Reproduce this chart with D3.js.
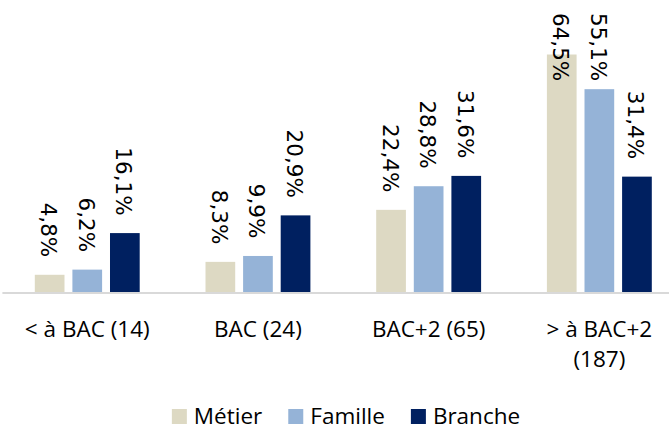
<!DOCTYPE html>
<html>
<head>
<meta charset="utf-8">
<script src="https://cdn.jsdelivr.net/npm/d3@7"></script>
<style>
  body { margin: 0; background: #fff; }
  svg { display: block; }
</style>
</head>
<body>
<div id="chart"></div>
<script>
// data
const categories = ["< à BAC (14)", "BAC (24)", "BAC+2 (65)", "> à BAC+2 (187)"];
const tickLines = [["< à BAC (14)"], ["BAC (24)"], ["BAC+2 (65)"], ["> à BAC+2", "(187)"]];
const seriesNames = ["Métier", "Famille", "Branche"];
const metier = [4.8, 8.3, 22.4, 64.5];
const famille = [6.2, 9.9, 28.8, 55.1];
const branche = [16.1, 20.9, 31.6, 31.4];
const seriesColors = ["#DDD9C3", "#95B3D7", "#002060"];

const seriesValues = [metier, famille, branche];
const rows = [];
categories.forEach((c, i) => {
    seriesNames.forEach((s, j) => {
        rows.push({cat: c, series: s, value: seriesValues[j][i]});
    });
});

const width = 669, height = 430;
const baseY = 292.5;

const svg = d3.select("#chart").append("svg")
    .attr("width", width)
    .attr("height", height);

const x0 = d3.scaleBand()
    .domain(categories)
    .range([1.9, 1.9 + 4 * 170.7])
    .padding(0);

const x1 = d3.scaleBand()
    .domain(seriesNames)
    .range([0, x0.bandwidth()])
    .paddingInner(0.21)
    .paddingOuter(0.875);

const y = d3.scaleLinear()
    .domain([0, 70])
    .range([baseY, baseY - 70 * 3.69]);

const color = d3.scaleOrdinal()
    .domain(seriesNames)
    .range(seriesColors);

// bars
svg.append("g").selectAll("rect")
    .data(rows)
    .join("rect")
    .attr("x", d => x0(d.cat) + x1(d.series))
    .attr("y", d => y(d.value))
    .attr("width", x1.bandwidth())
    .attr("height", d => y(0) - y(d.value))
    .attr("fill", d => color(d.series));

// x axis
const xAxis = svg.append("g")
    .attr("transform", "translate(0," + baseY + ")")
    .call(d3.axisBottom(x0).tickSize(0).tickSizeOuter(0));

xAxis.select(".domain")
    .attr("stroke", "#d9d9d9")
    .attr("stroke-width", 2);

xAxis.selectAll(".tick text").remove();
xAxis.selectAll(".tick").each(function(d, i) {
    const t = d3.select(this).append("text")
        .attr("fill", "#000")
        .attr("text-anchor", "middle")
        .style("font-family", "'Open Sans', sans-serif")
        .style("font-size", "22.5px");
    tickLines[i].forEach((line, k) => {
        t.append("tspan")
            .attr("x", 0)
            .attr("y", 44 + k * 30)
            .text(line);
    });
});

// value labels, rotated
const fmt = v => d3.format(".1f")(v).replace(".", ",") + "%";
svg.append("g").selectAll("text")
    .data(rows)
    .join("text")
    .text(d => fmt(d.value))
    .style("font-family", "'DejaVu Sans', Verdana, sans-serif")
    .style("font-size", "21.5px")
    .attr("fill", "#000")
    .attr("text-anchor", "start")
    .attr("dominant-baseline", "central")
    .attr("transform", function(d) {
        const len = this.getComputedTextLength();
        const cx = x0(d.cat) + x1(d.series) + x1.bandwidth() / 2 - 1;
        let top = y(d.value) - 17.5 - len;
        if (top < 13) top = 13;
        return "translate(" + cx + "," + top + ") rotate(90)";
    });

// legend
const legend = svg.append("g");
let lx = 0;
seriesNames.forEach((s, i) => {
    const item = legend.append("g").attr("transform", "translate(" + lx + ",0)");
    item.append("rect")
        .attr("x", 0)
        .attr("y", 409)
        .attr("width", 15)
        .attr("height", 15)
        .attr("fill", color(s));
    const t = item.append("text")
        .attr("x", 22)
        .attr("y", 424)
        .attr("fill", "#000")
        .style("font-family", "'Open Sans', sans-serif")
        .style("font-size", "22.5px")
        .text(s);
    lx += 22 + t.node().getComputedTextLength() + 26;
});
const legendWidth = lx - 26;
legend.attr("transform", "translate(" + (346 - legendWidth / 2) + ",0)");
</script>
</body>
</html>
